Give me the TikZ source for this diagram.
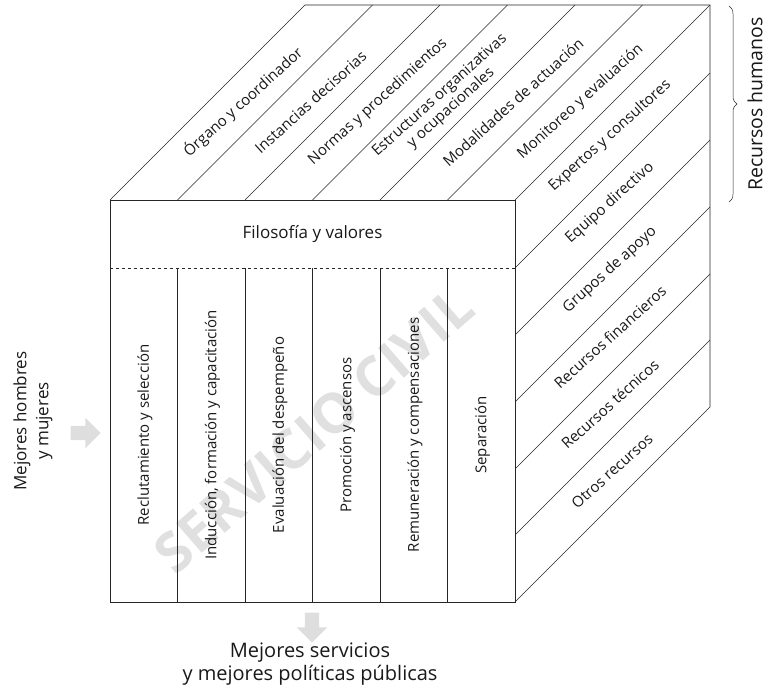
\documentclass[tikz,border=0pt]{standalone}
\usepackage{fontspec}
\setmainfont{Open Sans}
\usetikzlibrary{decorations.pathreplacing,shapes.arrows}
\tikzset{
  edge/.style={draw=black!85, line width=0.6pt},
  lbl/.style={text=black!90, font=\fontsize{15}{17}\selectfont, align=center, inner sep=0pt},
  big/.style={text=black!90, font=\fontsize{18}{22}\selectfont, align=center, inner sep=0pt},
  grayarrow/.style={single arrow, fill=black!13, draw=none, minimum height=30pt,
    minimum width=30pt, inner sep=7pt, single arrow head extend=8pt},
}
\begin{document}
\begin{tikzpicture}[x=1pt, y=-1pt]
      \useasboundingbox (0,0) rectangle (767,695);
      % watermark
      \node[text=black!12, font=\bfseries\fontsize{55}{55}\selectfont, rotate=41] (wm) at (314,430) {SERVICIO CIVIL};
      % cube corners
      \coordinate (a) at (110,200);
      \coordinate (b) at (515,200);
      \coordinate (c) at (515,602);
      \coordinate (d) at (110,602);
      \coordinate (e) at (305,5);
      \coordinate (f) at (710,5);
      \coordinate (g) at (710,407);
      \begin{scope}[edge]
        \draw (a) -- (b) -- (c) -- (d) -- cycle;
        \draw (a) -- (e) -- (f) -- (g) -- (c);
        \draw (b) -- (f);
        \draw[dashed] (110,268) -- (515,268);
        % front columns
        \draw (177.5,268) -- (177.5,602);
        \draw (245,268) -- (245,602);
        \draw (312.5,268) -- (312.5,602);
        \draw (380,268) -- (380,602);
        \draw (447.5,268) -- (447.5,602);
        % top strips
        \draw (177.5,200) -- (372.5,5);
        \draw (245,200) -- (440,5);
        \draw (312.5,200) -- (507.5,5);
        \draw (380,200) -- (575,5);
        \draw (447.5,200) -- (642.5,5);
        % right strips
        \draw (515,268) -- (710,73);
        \draw (515,335) -- (710,140);
        \draw (515,402) -- (710,207);
        \draw (515,469) -- (710,274);
        \draw (515,535) -- (710,340);
      \end{scope}
      % front face
      \draw
        (312.5,234) node[lbl, font=\fontsize{17}{20}\selectfont] (fv){Filosofía y valores}
        (145,435) node[lbl, rotate=90] (c1){Reclutamiento y selección}
        (212.5,435) node[lbl, rotate=90] (c2){Inducción, formación y capacitación}
        (280,435) node[lbl, rotate=90] (c3){Evaluación del despempeño}
        (347.5,435) node[lbl, rotate=90] (c4){Promoción y ascensos}
        (415,435) node[lbl, rotate=90] (c5){Remuneración y compensaciones}
        (482.5,435) node[lbl, rotate=90] (c6){Separación};
      % top face
      \draw
        (243,102) node[lbl, rotate=42] (t1){Órgano y coordinador}
        (310.5,102) node[lbl, rotate=42] (t2){Instancias decisorias}
        (378,102) node[lbl, rotate=42] (t3){Normas y procedimientos}
        (445.5,102) node[lbl, rotate=42] (t4){Estructuras organizativas\\y ocupacionales}
        (513,102) node[lbl, rotate=42] (t5){Modalidades de actuación}
        (580.5,102) node[lbl, rotate=42] (t6){Monitoreo y evaluación};
      % right face
      \draw
        (610,136) node[lbl, rotate=42] (r1){Expertos y consultores}
        (610,203) node[lbl, rotate=42] (r2){Equipo directivo}
        (610,270) node[lbl, rotate=42] (r3){Grupos de apoyo}
        (610,337) node[lbl, rotate=42] (r4){Recursos financieros}
        (610,404) node[lbl, rotate=42] (r5){Recursos técnicos}
        (612,471) node[lbl, rotate=42] (r6){Otros recursos};
      % brace
      \coordinate (br1) at (729,6);
      \coordinate (br2) at (729,202);
      \draw[edge, line width=0.5pt, decorate, decoration={brace, amplitude=8pt}] (br1) -- (br2);
      \node[big, rotate=90, font=\fontsize{19.5}{22}\selectfont] (rh) at (755,104) {Recursos humanos};
      % in and out
      \node[big, rotate=90, font=\fontsize{17}{22}\selectfont] (in) at (33,421) {Mejores hombres\\y mujeres};
      \node[grayarrow] (ia) at (82,433) {};
      \node[grayarrow, shape border rotate=270] (oa) at (312,624) {};
      \node[big, font=\fontsize{20}{23}\selectfont] (out) at (310,664) {Mejores servicios\\y mejores políticas públicas};
    \end{tikzpicture}
\end{document}
